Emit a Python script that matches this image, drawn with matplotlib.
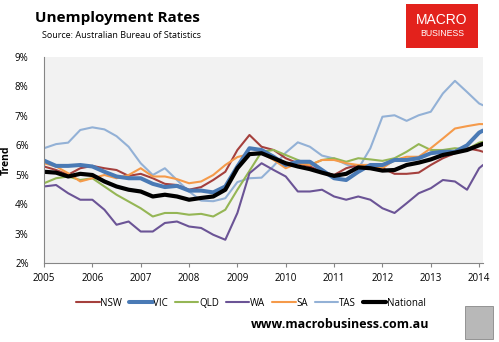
import matplotlib
matplotlib.use("Agg")
import matplotlib.pyplot as plt
from matplotlib.patches import Rectangle
import numpy as np

t = [2005.0 + 0.25 * i for i in range(37)] + [2014.08]

nsw = [5.28, 5.16, 5.00, 5.22, 5.30, 5.22, 5.16, 4.96, 5.03, 4.88, 4.69, 4.65, 4.49, 4.58, 4.82, 5.10,
       5.84, 6.35, 5.95, 5.84, 5.56, 5.39, 5.28, 5.10, 4.99, 5.22, 5.33, 5.33, 5.22, 5.03, 5.03, 5.07,
       5.33, 5.56, 5.73, 5.90, 5.82, 5.78]
vic = [5.48, 5.30, 5.30, 5.33, 5.28, 5.10, 4.94, 4.88, 4.88, 4.69, 4.58, 4.62, 4.46, 4.46, 4.40, 4.60,
       5.28, 5.90, 5.84, 5.61, 5.33, 5.44, 5.44, 5.16, 4.88, 4.82, 5.10, 5.33, 5.33, 5.50, 5.50, 5.56,
       5.73, 5.78, 5.78, 6.00, 6.43, 6.50]
qld = [4.71, 4.88, 4.94, 4.82, 4.88, 4.60, 4.32, 4.09, 3.86, 3.58, 3.70, 3.70, 3.64, 3.67, 3.58, 3.81,
       4.49, 5.13, 5.78, 5.84, 5.67, 5.50, 5.33, 5.50, 5.56, 5.44, 5.56, 5.52, 5.47, 5.56, 5.78, 6.04,
       5.84, 5.84, 5.90, 5.86, 6.09, 6.12]
wa = [4.60, 4.65, 4.37, 4.15, 4.15, 3.81, 3.30, 3.41, 3.07, 3.07, 3.36, 3.41, 3.24, 3.19, 2.96, 2.79,
      3.70, 5.05, 5.39, 5.16, 4.94, 4.43, 4.43, 4.49, 4.26, 4.15, 4.26, 4.15, 3.86, 3.70, 4.03, 4.37,
      4.54, 4.82, 4.77, 4.49, 5.22, 5.33]
sa = [5.39, 5.28, 5.05, 4.77, 4.88, 4.99, 4.88, 4.99, 5.22, 4.94, 4.94, 4.85, 4.71, 4.77, 4.99, 5.33,
      5.60, 5.70, 5.73, 5.50, 5.22, 5.39, 5.33, 5.50, 5.50, 5.39, 5.33, 5.33, 5.22, 5.50, 5.61, 5.61,
      5.90, 6.23, 6.57, 6.65, 6.72, 6.72]
tas = [5.90, 6.04, 6.09, 6.52, 6.61, 6.54, 6.31, 5.95, 5.39, 4.99, 5.22, 4.82, 4.43, 4.12, 4.10, 4.20,
       4.75, 4.88, 4.90, 5.30, 5.75, 6.10, 5.95, 5.65, 5.55, 5.35, 5.20, 5.90, 6.97, 7.02, 6.83, 7.02,
       7.14, 7.76, 8.19, 7.81, 7.42, 7.36]
national = [5.10, 5.07, 4.94, 5.03, 4.99, 4.77, 4.60, 4.49, 4.43, 4.26, 4.32, 4.26, 4.15, 4.21, 4.26, 4.49,
            5.22, 5.70, 5.73, 5.56, 5.39, 5.28, 5.19, 5.07, 4.96, 5.03, 5.25, 5.22, 5.14, 5.16, 5.33, 5.41,
            5.52, 5.67, 5.75, 5.84, 6.00, 6.05]

series_names = ["NSW", "VIC", "QLD", "WA", "SA", "TAS", "National"]
series_vals = [nsw, vic, qld, wa, sa, tas, national]
colors = ["#A5403D", "#4A7AB5", "#95B655", "#6B5496", "#F59A4A", "#93B1D6", "#000000"]
widths = [1.5, 2.9, 1.5, 1.5, 1.5, 1.5, 3.0]
year_ticks = list(range(2005, 2015))
pct_ticks = [2, 3, 4, 5, 6, 7, 8, 9]

plt.rcParams['font.family'] = ['Open Sans', 'DejaVu Sans']

fig = plt.figure(figsize=(4.99, 3.42), dpi=100)
fig.patch.set_facecolor("white")
ax = fig.add_axes([44 / 499, 1 - 263 / 342, (483 - 44) / 499, (263 - 57) / 342])
ax.set_facecolor("#F2F2F2")

order = [5, 0, 2, 3, 4, 1, 6]
handles = {}
for i in order:
    ln, = ax.plot(t, series_vals[i], color=colors[i], lw=widths[i], solid_capstyle="round",
                  solid_joinstyle="round", label=series_names[i])
    handles[i] = ln

ax.set_xlim(2005, 2014.08)
ax.set_ylim(2, 9)
ax.set_xticks(year_ticks)
ax.set_xticklabels([str(y) for y in year_ticks], fontsize=7)
ax.set_yticks(pct_ticks)
ax.set_yticklabels([f"{p}%" for p in pct_ticks], fontsize=7)
ax.tick_params(axis="x", length=3, color="#868686", pad=4)
ax.tick_params(axis="y", length=0, pad=11)
for s in ["top", "right"]:
    ax.spines[s].set_visible(False)
for s in ["left", "bottom"]:
    ax.spines[s].set_color("#868686")
    ax.spines[s].set_linewidth(0.8)
ax.set_ylabel("Trend", fontsize=7.5, fontweight="bold")
ax.yaxis.set_label_coords((12 - 44) / 439, 0.5)

leg = fig.legend([handles[i] for i in range(7)], series_names, loc="center",
                 bbox_to_anchor=(251 / 499, 1 - 303 / 342), ncol=7, frameon=False, fontsize=7,
                 handlelength=2.4, handletextpad=0.05, columnspacing=0.75)

fig.text(117 / 499, 1 - 18 / 342, "Unemployment Rates", fontsize=11, fontweight="bold",
         ha="center", va="center")
fig.text(122 / 499, 1 - 36 / 342, "Source: Australian Bureau of Statistics", fontsize=6.5,
         ha="center", va="center")

# logo box
fig.patches.append(Rectangle((406 / 499, 1 - 48 / 342), 72 / 499, 44 / 342,
                             transform=fig.transFigure, facecolor="#E3221C", edgecolor="none"))
fig.text(442 / 499, 1 - 20 / 342, "MACRO", fontsize=10, color="white", ha="center", va="center",
         family=["Liberation Sans", "DejaVu Sans"])
fig.text(442 / 499, 1 - 34 / 342, "BUSINESS", fontsize=6.3, color="white", ha="center", va="center",
         family=["Liberation Sans", "DejaVu Sans"])

fig.text(340 / 499, 1 - 325 / 342, "www.macrobusiness.com.au", fontsize=9, fontweight="bold",
         ha="center", va="center")
fig.patches.append(Rectangle((465 / 499, 1 - 339 / 342), 28 / 499, 33 / 342,
                             transform=fig.transFigure, facecolor="#B8B8B8", edgecolor="#888888",
                             lw=0.6))

fig.savefig("out.png", dpi=100)
